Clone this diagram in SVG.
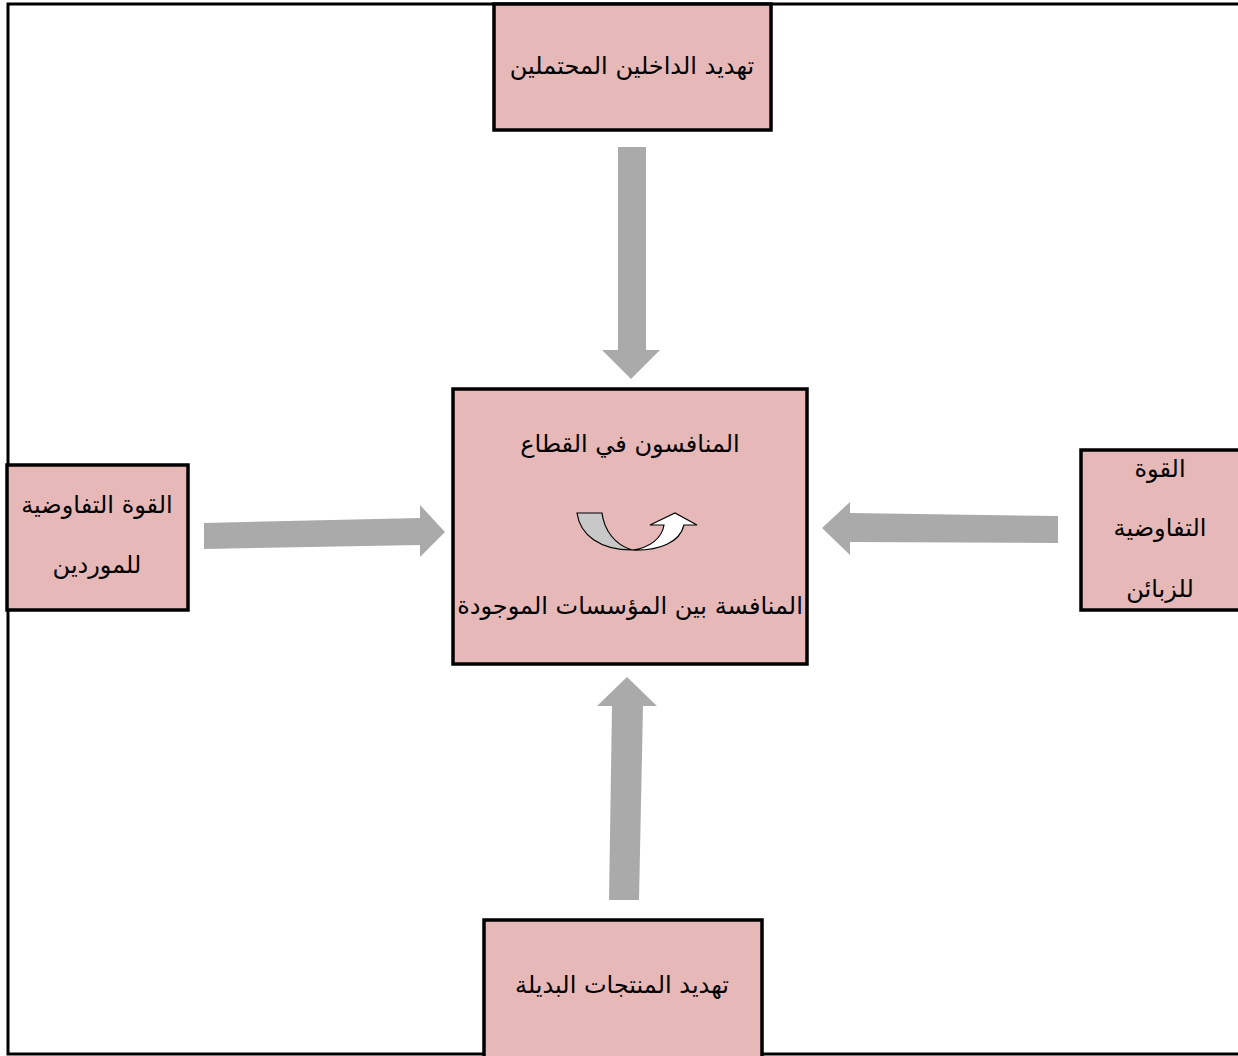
<svg xmlns="http://www.w3.org/2000/svg" width="1238" height="1056" viewBox="0 0 1238 1056">
<style>
.box{fill:#e6b8b7;stroke:#000;stroke-width:3.5}
.t{font-family:"DejaVu Sans",sans-serif;font-size:24px;fill:#000;text-anchor:middle}
.arr{fill:#aaaaaa}
</style>
<rect x="0" y="0" width="1238" height="1056" fill="#fff"/>
<rect x="8" y="4" width="1240" height="1050" fill="none" stroke="#000" stroke-width="3"/>
<g id="connectors">
<polygon class="arr" points="618,147 646,147 646,350 660,350 631,379 602,350 618,350"/>
<polygon class="arr" points="204,523 420,518 420,505 445,532 420,557 420,545 204,549"/>
<polygon class="arr" points="1058,516 1058,543 850,542 850,555 822,528 850,502 850,513"/>
<polygon class="arr" points="609,900 639,900 643,706 657,706 627,677 597,706 612,706"/>
</g>
<g id="top">
<rect class="box" x="494" y="4" width="277" height="126"/>
<text class="t" x="632" y="74" direction="rtl">تهديد الداخلين المحتملين</text>
</g>
<g id="center">
<rect class="box" x="453" y="389" width="354" height="275"/>
<text class="t" x="630" y="452" direction="rtl">المنافسون في القطاع</text>
<path d="M577,513 L602,513 C604,530 615,545 632,550 C600,550 580,535 577,513 Z" fill="#c8c8c8" stroke="#000" stroke-width="1.2"/>
<path d="M632,550 C650,548 662,538 664,525 L650,525 L675,513 L697,525 L684,525 C680,542 660,551 632,550 Z" fill="#fff" stroke="#000" stroke-width="1.2"/>
<text class="t" x="630" y="614" direction="rtl">المنافسة بين المؤسسات الموجودة</text>
</g>
<g id="left">
<rect class="box" x="7" y="465" width="181" height="145"/>
<text class="t" x="97" y="513" direction="rtl">القوة التفاوضية</text>
<text class="t" x="97" y="573" direction="rtl">للموردين</text>
</g>
<g id="right">
<rect class="box" x="1081" y="450" width="170" height="160"/>
<text class="t" x="1160" y="477" direction="rtl">القوة</text>
<text class="t" x="1160" y="536" direction="rtl">التفاوضية</text>
<text class="t" x="1160" y="597" direction="rtl">للزبائن</text>
</g>
<g id="bottom">
<rect class="box" x="484" y="920" width="278" height="140"/>
<text class="t" x="622" y="993" direction="rtl">تهديد المنتجات البديلة</text>
</g>
</svg>
